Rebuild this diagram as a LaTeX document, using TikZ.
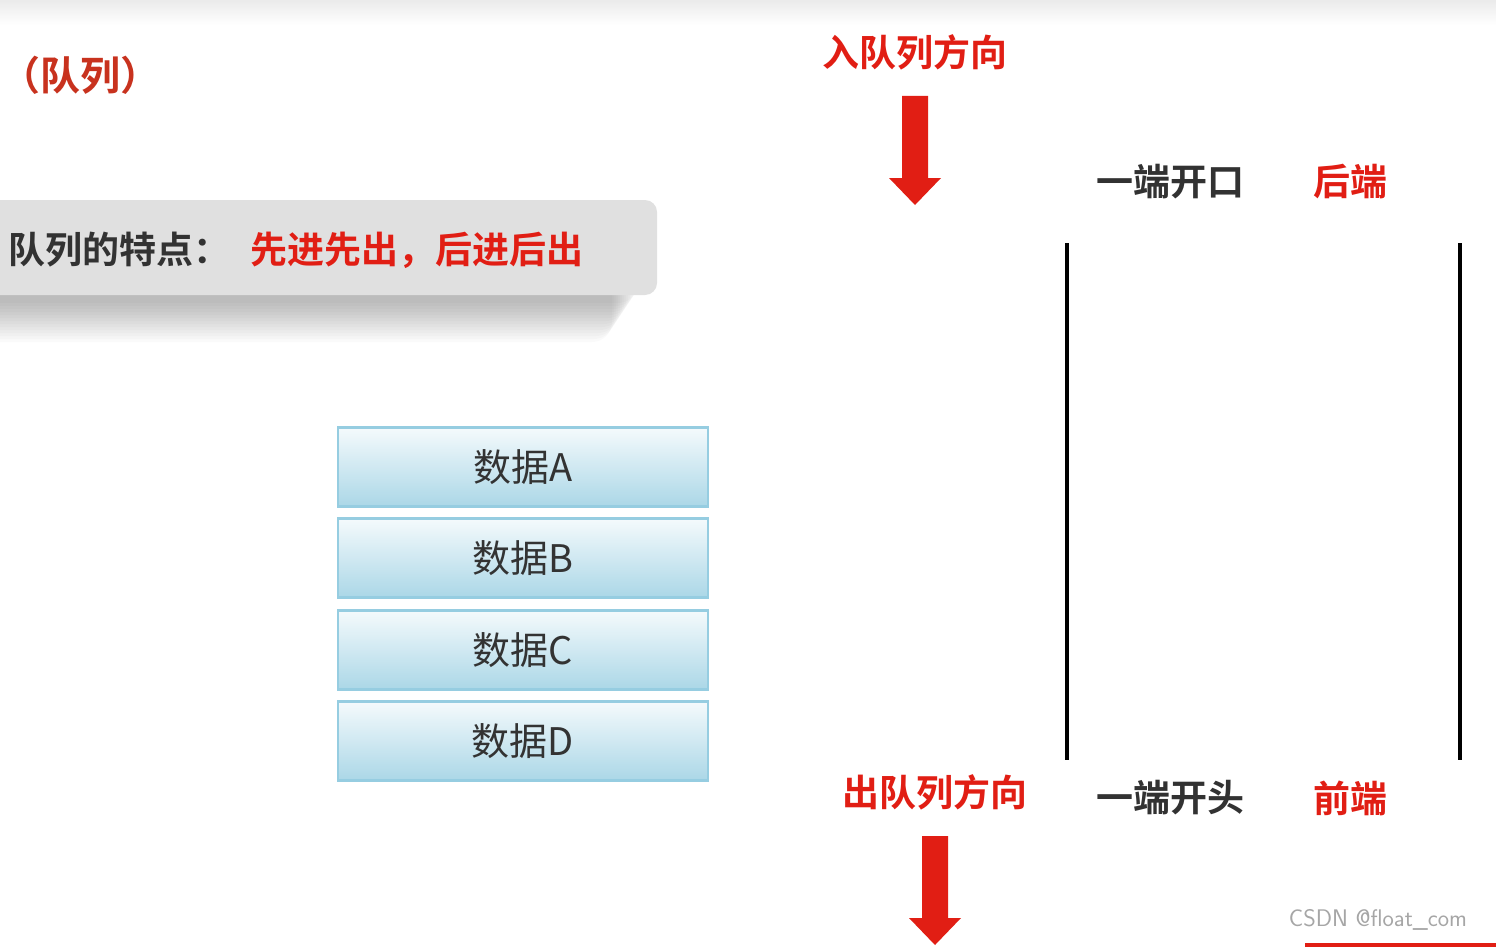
\documentclass[tikz,border=0pt]{standalone}
\usepackage{fontspec}
\setmainfont{Noto Sans CJK SC}
\newfontfamily\cjkb{Noto Sans CJK SC Bold}
\definecolor{qred}{RGB}{225,30,20}
\definecolor{dred}{RGB}{200,50,30}
\definecolor{txt}{RGB}{50,50,50}
\definecolor{bb}{RGB}{150,205,225}
\tikzset{
 lbl/.style={font=\cjkb\fontsize{37}{40}\selectfont,inner sep=0},
 redl/.style={lbl,text=qred},
 dark/.style={lbl,text=txt},
 databox/.style={draw=bb,line width=2.5pt,top color=white!90!bb,bottom color=bb!80,minimum width=370pt,minimum height=79pt,font=\fontsize{38}{40}\selectfont,text=black!80},
 redarrow/.style={fill=qred,draw=none},
 wall/.style={line width=3.5pt,black}
}
\begin{document}
\begin{tikzpicture}[x=1pt,y=-1pt]
\useasboundingbox[fill=white] (0,0) rectangle (1496,947);
\fill[top color=black!8,bottom color=white] (0,0) rectangle (1496,25);
\node[lbl,text=dred,font=\cjkb\fontsize{40}{44}\selectfont] (title) at (80,75) {（队列）};
\foreach \i in {1,...,14}{
 \fill[black,opacity=0.02,rounded corners=20pt] (-20,230+2*\i) rectangle (640-2*\i,300+3*\i);
}
\fill[rounded corners=12pt,fill=black!12] (-20,200) rectangle (657,295);
\node[dark,anchor=west] (feat) at (8,250) {队列的特点：};
\node[redl,anchor=west] (feat2) at (250,250) {先进先出，后进后出};
\node[databox] (a) at (523,467) {数据A};
\node[databox] (b) at (523,558) {数据B};
\node[databox] (c) at (523,650) {数据C};
\node[databox] (d) at (523,741) {数据D};
\node[redl] (in) at (915,52) {入队列方向};
\fill[redarrow] (902,96) -- (928,96) -- (928,178) -- (941,178) -- (915,205) -- (889,178) -- (902,178) -- cycle;
\node[redl] (out) at (935,792) {出队列方向};
\fill[redarrow] (922,836) -- (948,836) -- (948,918) -- (961,918) -- (935,945) -- (909,918) -- (922,918) -- cycle;
\node[dark] (open) at (1170,182) {一端开口};
\node[redl] (rear) at (1350,182) {后端};
\node[dark] (head) at (1170,798) {一端开头};
\node[redl] (front) at (1350,798) {前端};
\coordinate (l1) at (1067,243); \coordinate (l2) at (1067,760);
\coordinate (r1) at (1460,243); \coordinate (r2) at (1460,760);
\draw[wall] (l1) -- (l2);
\draw[wall] (r1) -- (r2);
\node[font=\fontfamily{lmss}\fontsize{24}{26}\selectfont,text=black!35] (wm) at (1378,920) {CSDN @float\_com};
\fill[qred] (1305,943) rectangle (1496,947);
\end{tikzpicture}
\end{document}
